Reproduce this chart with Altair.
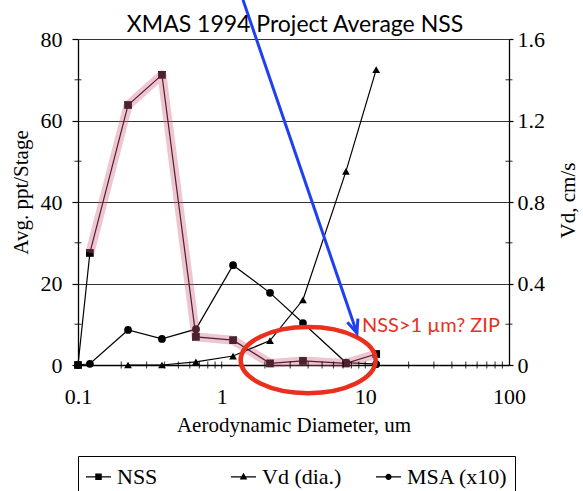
import altair as alt
import pandas as pd

# ---------------- data ----------------
diameters = [0.1, 0.121, 0.223, 0.384, 0.662, 1.2, 2.17, 3.68, 7.33, 11.9]
nss_values = [0, 27.5, 63.8, 71.2, 6.9, 6.1, 0.4, 1.0, 0.4, 2.7]
msa_values = [0, 0.3, 8.6, 6.4, 8.8, 24.5, 17.7, 10.3, 0.6, 0.2]
vd_diameters = [0.223, 0.384, 0.662, 1.2, 2.17, 3.68, 7.33, 11.9]
vd_values = [0, 0, 0.015, 0.044, 0.12, 0.32, 0.95, 1.45]

series_names = ["NSS", "Vd (dia.)", "MSA (x10)"]
x_tick_labels = [0.1, 1, 10, 100]
left_tick_labels = [0, 20, 40, 60, 80]
right_tick_labels = [0, 0.4, 0.8, 1.2, 1.6]
x_minor_ticks = [0.2, 0.3, 0.4, 0.5, 0.6, 0.7, 0.8, 0.9, 1,
                 2, 3, 4, 5, 6, 7, 8, 9, 10,
                 20, 30, 40, 50, 60, 70, 80, 90]
y_minor_ticks = [10, 30, 50, 70]
y_minor_edges = [0.1, 100]

# annotations (data coordinates)
title_text = "XMAS 1994 Project Average NSS"
title_x, title_y = [3.24], [81.7]
note_text = "NSS>1 \u00b5m? ZIP"
note_x, note_y = [9.47], [9.6]
ellipse_x, ellipse_y = [4.0], [1.2]
arrow_x, arrow_y = [1.407], [89.6]
arrow_x2, arrow_y2 = [8.74], [7.85]

# ---------------- styling ----------------
serif = "Liberation Serif"
sans = "Lato"
blue = "#1f3ff2"
red = "#ea2f1c"
pink = "#d15d80"

# legend glyphs "-marker-" drawn as filled shapes (thin bar + marker)
bar = "M-1,-0.05L1,-0.05L1,0.05L-1,0.05Z"
legend_paths = [
    bar + "M-0.26,-0.26L0.26,-0.26L0.26,0.26L-0.26,0.26Z",
    bar + "M0,-0.32L0.3,0.22L-0.3,0.22Z",
    bar + "M-0.25,0A0.25,0.25,0,1,1,0.25,0A0.25,0.25,0,1,1,-0.25,0Z",
]
ellipse_path = "M-1,0A1,0.49,0,1,0,1,0A1,0.49,0,1,0,-1,0Z"
arrowhead_path = "M-0.42,-1L0,0L0.42,-1"

# ---------------- tables ----------------
nss_df = pd.DataFrame({"x": diameters, "y": nss_values})
msa_df = pd.DataFrame({"x": diameters, "y": msa_values})
hl_df = pd.DataFrame({"x": diameters[1:], "y": nss_values[1:]})
vd_df = pd.DataFrame({"x": vd_diameters, "v": vd_values})
xt_df = pd.DataFrame({"x": x_minor_ticks, "y": [0] * len(x_minor_ticks)})
yt_df = pd.DataFrame({"x": [e for e in y_minor_edges for _ in y_minor_ticks],
                      "y": y_minor_ticks * len(y_minor_edges)})
legend_df = pd.DataFrame({"x": [1] * 3, "y": [1] * 3, "series": series_names})

axis_fonts = dict(labelFont=serif, labelFontSize=22, labelColor="black",
                  titleFont=serif, titleFontSize=21, titleFontWeight="normal",
                  titleColor="black", domainColor="black", domainWidth=1.3,
                  tickColor="black", tickWidth=1.2, labelOverlap=False)

x_enc = alt.X(
    "x:Q",
    scale=alt.Scale(type="log", domain=[0.1, 100], nice=False),
    axis=alt.Axis(values=x_tick_labels, format="~g", title="Aerodynamic Diameter, um",
                  tickSize=0, labelPadding=21, titleY=60, titleBaseline="middle",
                  grid=False, labelFlush=False, **axis_fonts),
)
y_left = alt.Y(
    "y:Q",
    scale=alt.Scale(domain=[0, 80], nice=False),
    axis=alt.Axis(values=left_tick_labels, title="Avg. ppt/Stage", grid=True,
                  gridColor="#333333", gridWidth=1, tickSize=6, labelPadding=10,
                  titleX=-51, titleY=153, titleBaseline="alphabetic", titleAngle=270,
                  **axis_fonts),
)
y_right = alt.Y(
    "v:Q",
    scale=alt.Scale(domain=[0, 1.6], nice=False),
    axis=alt.Axis(orient="right", values=right_tick_labels, format="~g", title="Vd, cm/s",
                  grid=False, tickSize=4, labelPadding=4, titleAngle=270,
                  titleX=65, titleY=161, titleBaseline="alphabetic", **axis_fonts),
)
y_annot = alt.Y("y:Q", scale=alt.Scale(domain=[0, 80], nice=False), axis=None)

line_style = dict(color="black", strokeWidth=1.2)

nss_line = alt.Chart(nss_df).mark_line(**line_style).encode(x=x_enc, y=y_left)
msa_line = alt.Chart(msa_df).mark_line(**line_style).encode(x=x_enc, y=y_left)
nss_pts = alt.Chart(nss_df).mark_point(shape="square", filled=True, color="black",
                                       size=60, opacity=1).encode(x=x_enc, y=y_left)
msa_pts = alt.Chart(msa_df).mark_point(shape="circle", filled=True, color="black",
                                       size=60, opacity=1).encode(x=x_enc, y=y_left)
highlight = alt.Chart(hl_df).mark_line(color=pink, strokeWidth=9, opacity=0.36,
                                       strokeJoin="round").encode(x=x_enc, y=y_left)
x_ticks = alt.Chart(xt_df).mark_tick(orient="vertical", size=7, thickness=1.2,
                                     color="black").encode(x=x_enc, y=y_left)
y_ticks = alt.Chart(yt_df).mark_tick(orient="horizontal", size=7, thickness=1.2,
                                     color="black").encode(x=x_enc, y=y_left)
legend_layer = alt.Chart(legend_df).transform_filter("false").mark_point(
    filled=True, color="black", opacity=1
).encode(
    x=x_enc, y=y_left,
    shape=alt.Shape(
        "series:N",
        scale=alt.Scale(domain=series_names, range=legend_paths),
        legend=alt.Legend(
            orient="none", legendX=0, legendY=417, direction="horizontal", columns=3,
            gridAlign="all", columnPadding=10, padding=7, strokeColor="black",
            fillColor="white", labelFont=serif, labelFontSize=22, labelColor="black",
            labelOffset=5, symbolSize=625, symbolFillColor="black", symbolOpacity=1,
            title=None,
        ),
    ),
)

left = alt.layer(nss_line, msa_line, nss_pts, msa_pts, highlight, x_ticks, y_ticks,
                 legend_layer)

vd_line = alt.Chart(vd_df).mark_line(**line_style).encode(x=x_enc, y=y_right)
vd_pts = alt.Chart(vd_df).mark_point(shape="triangle-up", filled=True, color="black",
                                     size=60, opacity=1).encode(x=x_enc, y=y_right)
right = alt.layer(vd_line, vd_pts)

ellipse = alt.Chart(pd.DataFrame({"x": ellipse_x, "y": ellipse_y})).mark_point(
    shape=ellipse_path, filled=False, stroke=red, strokeWidth=4.5, size=18225, opacity=1
).encode(x=x_enc, y=y_annot)
arrow = alt.Chart(pd.DataFrame({"x": arrow_x, "y": arrow_y, "x2": arrow_x2, "y2": arrow_y2})
                  ).mark_rule(color=blue, strokeWidth=3).encode(
    x=x_enc, y=y_annot, x2="x2:Q", y2="y2:Q")
arrow_head = alt.Chart(pd.DataFrame({"x": arrow_x2, "y": arrow_y2})).mark_point(
    shape=arrowhead_path, filled=False, stroke=blue, strokeWidth=3, size=700, angle=341,
    opacity=1
).encode(x=x_enc, y=y_annot)
note = alt.Chart(pd.DataFrame({"x": note_x, "y": note_y, "t": [note_text]})).mark_text(
    align="left", baseline="middle", font=sans, fontSize=20, color=red
).encode(x=x_enc, y=y_annot, text="t:N")
title = alt.Chart(pd.DataFrame({"x": title_x, "y": title_y, "t": [title_text]})).mark_text(
    align="center", baseline="alphabetic", font=sans, fontSize=23, color="black"
).encode(x=x_enc, y=y_annot, text="t:N")
annot = alt.layer(ellipse, arrow, arrow_head, note, title)

chart = alt.layer(left, right, annot).resolve_scale(y="independent").properties(
    width=431, height=326,
    autosize=alt.AutoSizeParams(type="none"),
    padding={"left": 78, "top": 39, "right": 74, "bottom": 126},
    background="white",
).configure_view(strokeWidth=0).configure_axis(**axis_fonts)

chart.save("out.html", embed_options={"renderer": "svg", "actions": False})
